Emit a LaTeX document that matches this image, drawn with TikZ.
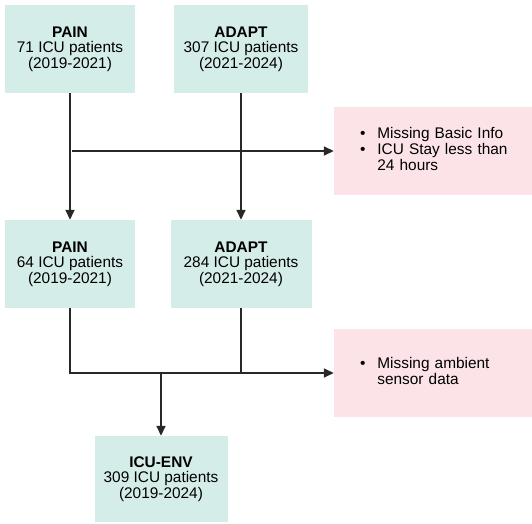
\documentclass[tikz,border=0pt]{standalone}
\usepackage{fontspec}
\setmainfont{Liberation Sans}
\usepackage{xcolor}
\usetikzlibrary{arrows.meta, positioning}

\definecolor{cohortfill}{RGB}{213,237,233}
\definecolor{excludefill}{RGB}{251,227,232}
\definecolor{linegray}{RGB}{40,40,40}

\begin{document}
\begin{tikzpicture}[x=1pt, y=-1pt, font=\fontsize{15.4}{15.6}\selectfont]
  \tikzstyle{cohort} = [rectangle, fill=cohortfill, minimum height=88pt, align=center, inner sep=0pt]
  \tikzstyle{exclude} = [rectangle, fill=excludefill, minimum width=198pt, minimum height=88pt, text width=146pt, align=left, inner xsep=26pt, inner ysep=0pt]
  \tikzstyle{flow} = [draw=linegray, line width=1.5pt, -{Triangle[length=10pt,width=9pt]}]
  \tikzstyle{link} = [draw=linegray, line width=1.5pt]
  \useasboundingbox (0,0) rectangle (532,523);
  % source cohorts
  \node[cohort, minimum width=130pt] (pain1)  at (70,49)  {\textbf{PAIN}\\71 ICU patients\\(2019-2021)};
  \node[cohort, minimum width=134pt] (adapt1) at (241,49) {\textbf{ADAPT}\\307 ICU patients\\(2021-2024)};
  % after first exclusion
  \node[cohort, minimum width=130pt] (pain2)  at (70,264) {\textbf{PAIN}\\64 ICU patients\\(2019-2021)};
  \node[cohort, minimum width=141pt] (adapt2) at (241,264) {\textbf{ADAPT}\\284 ICU patients\\(2021-2024)};
  % final cohort
  \node[cohort, minimum width=133pt, minimum height=86pt] (env) at (161,479) {\textbf{ICU-ENV}\\309 ICU patients\\(2019-2024)};
  % exclusions
  \node[exclude] (excl1) at (433,151) {\begin{tabular}{@{}l@{\hspace{12pt}}l@{}}\textbullet & Missing Basic Info\\ \textbullet & ICU Stay less than\\ & 24 hours\end{tabular}};
  \node[exclude] (excl2) at (433,373) {\begin{tabular}{@{}l@{\hspace{12pt}}l@{}}\textbullet & Missing ambient\\ & sensor data\end{tabular}};
  \coordinate (split) at (72,151);
  \coordinate (merge) at (161,373);
  \draw[flow] (pain1.south) -- (pain1.south |- pain2.north);
  \draw[flow] (adapt1.south) -- (adapt1.south |- adapt2.north);
  \draw[flow] (split) -- (excl1.west);
  \draw[flow] (pain2.south) |- (excl2.west);
  \draw[link] (adapt2.south) -- (adapt2.south |- excl2.west);
  \draw[flow] (merge) -- (env.north);
\end{tikzpicture}
\end{document}
